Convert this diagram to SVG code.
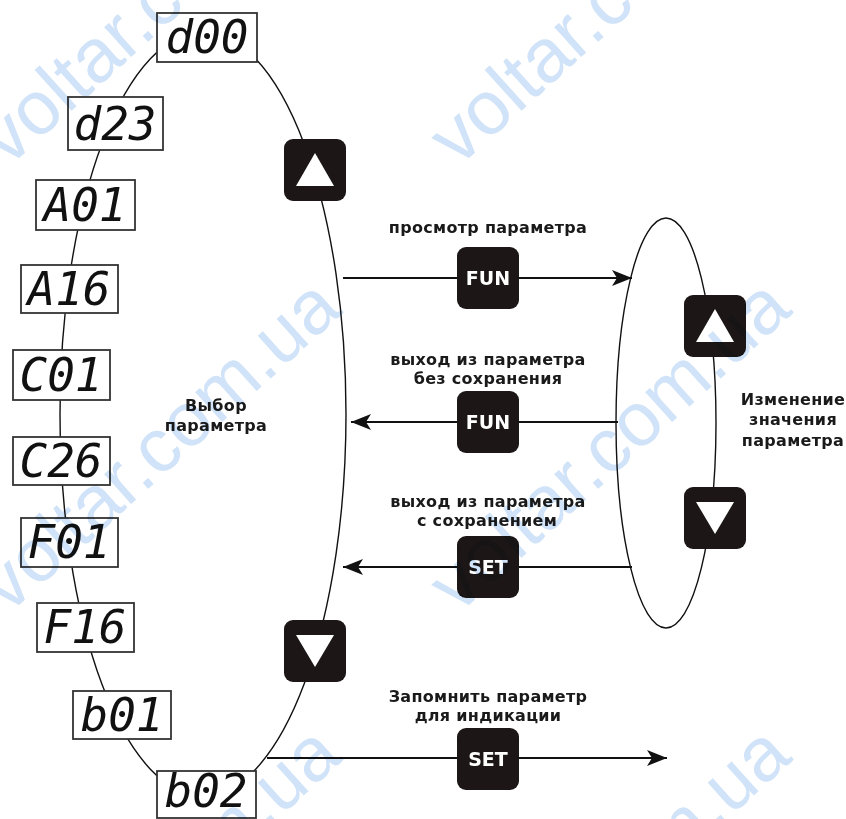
<svg xmlns="http://www.w3.org/2000/svg" width="846" height="819" viewBox="0 0 846 819">
<style>
.ell{fill:none;stroke:#111;stroke-width:1.4}
.conn{fill:none;stroke:#111;stroke-width:2.2}
.box{fill:#fff;stroke:#333;stroke-width:1.8}
.seg{font-family:"DejaVu Sans Mono",monospace;font-style:oblique;font-size:46px;fill:#111;text-anchor:middle}
.btn{fill:#1c1616}
.tri{fill:#fff}
.btxt{font-family:"DejaVu Sans",sans-serif;font-weight:bold;font-size:19px;fill:#fff;text-anchor:middle}
.lbl{font-family:"DejaVu Sans",sans-serif;font-weight:bold;font-size:16px;fill:#1a1a1a;text-anchor:middle;letter-spacing:0.3px}
.wm{font-family:"Liberation Sans",Arial,sans-serif;font-size:76px;fill:#d0e3f8;mix-blend-mode:multiply}
</style>
<defs>
<marker id="ah" markerUnits="userSpaceOnUse" markerWidth="22" markerHeight="16" refX="20" refY="8" orient="auto">
<path d="M0,0 L20,8 L0,16 L5,8 z" fill="#111"/>
</marker>
</defs>
<rect width="846" height="819" fill="#fff"/>
<g id="ellipses">
<ellipse class="ell" cx="203" cy="414" rx="143" ry="382"/>
<ellipse class="ell" cx="666" cy="423" rx="50" ry="205"/>
</g>
<g id="connectors">
<path class="conn" d="M343,278 H632" marker-end="url(#ah)"/>
<path class="conn" d="M618,422 H351" marker-end="url(#ah)"/>
<path class="conn" d="M632,567 H343" marker-end="url(#ah)"/>
<path class="conn" d="M267,758 H667" marker-end="url(#ah)"/>
</g>
<g id="disp-d00"><rect class="box" x="157" y="13" width="100" height="49"/><text class="seg" x="207" y="53">d00</text></g>
<g id="disp-d23"><rect class="box" x="68" y="97" width="95" height="53"/><text class="seg" x="115" y="140">d23</text></g>
<g id="disp-A01"><rect class="box" x="36" y="180" width="99" height="50"/><text class="seg" x="85" y="221">A01</text></g>
<g id="disp-A16"><rect class="box" x="21" y="265" width="97" height="48"/><text class="seg" x="69" y="305">A16</text></g>
<g id="disp-C01"><rect class="box" x="13" y="350" width="97" height="50"/><text class="seg" x="61" y="391">C01</text></g>
<g id="disp-C26"><rect class="box" x="13" y="437" width="97" height="48"/><text class="seg" x="61" y="477">C26</text></g>
<g id="disp-F01"><rect class="box" x="21" y="518" width="97" height="49"/><text class="seg" x="69" y="558">F01</text></g>
<g id="disp-F16"><rect class="box" x="37" y="603" width="97" height="49"/><text class="seg" x="85" y="643">F16</text></g>
<g id="disp-b01"><rect class="box" x="73" y="691" width="98" height="48"/><text class="seg" x="122" y="731">b01</text></g>
<g id="disp-b02"><rect class="box" x="157" y="771" width="99" height="47"/><text class="seg" x="206" y="807">b02</text></g>
<g id="btn-up-left"><rect class="btn" x="284" y="139" width="62" height="62" rx="9"/><path class="tri" d="M315,153 L334,186 L296,186 z"/></g>
<g id="btn-down-left"><rect class="btn" x="284" y="620" width="62" height="62" rx="9"/><path class="tri" d="M296,635 L334,635 L315,667 z"/></g>
<g id="btn-up-right"><rect class="btn" x="684" y="295" width="62" height="62" rx="9"/><path class="tri" d="M715,309 L734,342 L696,342 z"/></g>
<g id="btn-down-right"><rect class="btn" x="684" y="487" width="62" height="62" rx="9"/><path class="tri" d="M696,502 L734,502 L715,534 z"/></g>
<g id="btn-fun1"><rect class="btn" x="457" y="247" width="62" height="62" rx="9"/><text class="btxt" x="488" y="285">FUN</text></g>
<g id="btn-fun2"><rect class="btn" x="457" y="391" width="62" height="62" rx="9"/><text class="btxt" x="488" y="429">FUN</text></g>
<g id="btn-set1"><rect class="btn" x="457" y="536" width="62" height="62" rx="9"/><text class="btxt" x="488" y="574">SET</text></g>
<g id="btn-set2"><rect class="btn" x="457" y="728" width="62" height="62" rx="9"/><text class="btxt" x="488" y="766">SET</text></g>
<g id="labels">
<text class="lbl" x="488" y="233">просмотр параметра</text>
<text class="lbl" x="488" y="365">выход из параметра</text>
<text class="lbl" x="488" y="384">без сохранения</text>
<text class="lbl" x="488" y="507">выход из параметра</text>
<text class="lbl" x="487" y="526">с сохранением</text>
<text class="lbl" x="488" y="702">Запомнить параметр</text>
<text class="lbl" x="488" y="721">для индикации</text>
<text class="lbl" x="216" y="411">Выбор</text>
<text class="lbl" x="216" y="431">параметра</text>
<text class="lbl" x="793" y="405">Изменение</text>
<text class="lbl" x="793" y="425">значения</text>
<text class="lbl" x="793" y="446">параметра</text>
</g>
<g id="watermark">
<text class="wm" transform="translate(8,168) rotate(-42)">voltar.com.ua</text>
<text class="wm" transform="translate(458,168) rotate(-42)">voltar.com.ua</text>
<text class="wm" transform="translate(8,615) rotate(-42)">voltar.com.ua</text>
<text class="wm" transform="translate(458,615) rotate(-42)">voltar.com.ua</text>
<text class="wm" transform="translate(8,1062) rotate(-42)">voltar.com.ua</text>
<text class="wm" transform="translate(458,1062) rotate(-42)">voltar.com.ua</text>
</g>
</svg>
